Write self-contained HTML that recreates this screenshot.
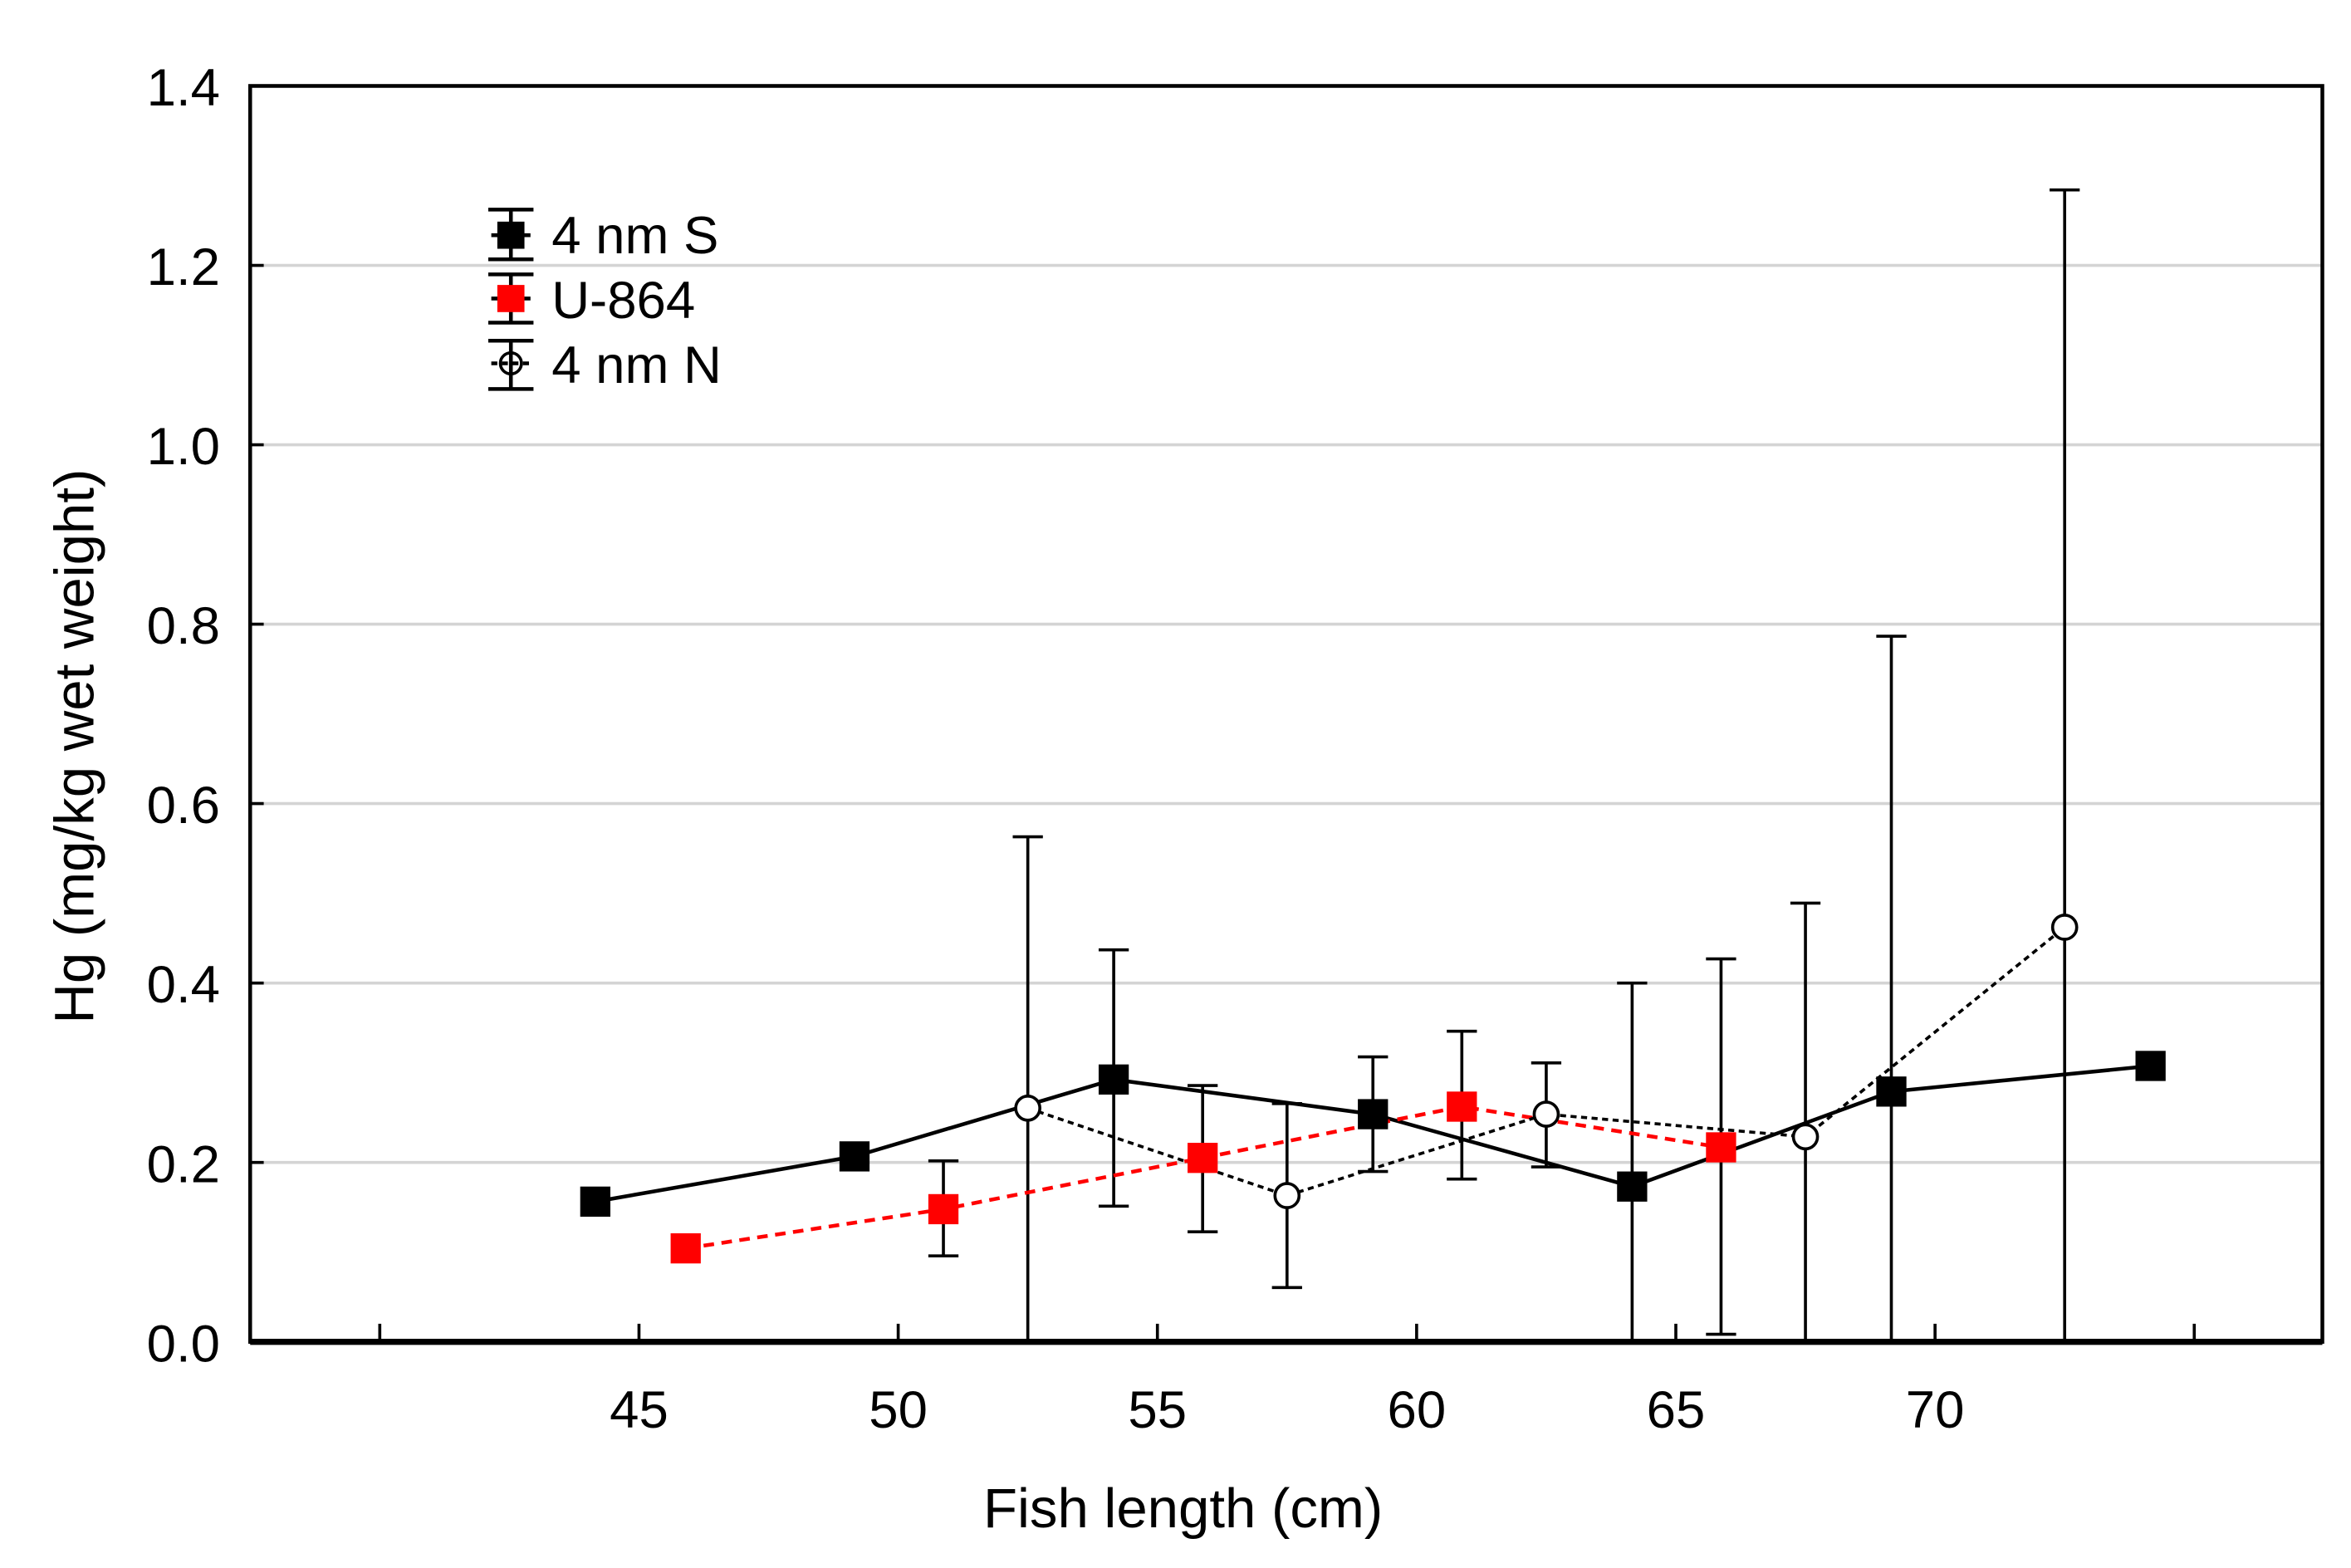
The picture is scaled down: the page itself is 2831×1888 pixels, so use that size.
<!DOCTYPE html>
<html><head><meta charset="utf-8"><style>html,body{margin:0;padding:0;background:#fff}svg{display:block}</style></head>
<body>
<svg width="2831" height="1888" viewBox="0 0 1560 1040" preserveAspectRatio="none" xmlns="http://www.w3.org/2000/svg" font-family="Liberation Sans, sans-serif">
<rect width="1560" height="1040" fill="#fff"/>
<g stroke="#d4d4d4" stroke-width="2">
<line x1="167" x2="1540" y1="771" y2="771"/><line x1="167" x2="1540" y1="652" y2="652"/><line x1="167" x2="1540" y1="533" y2="533"/><line x1="167" x2="1540" y1="414" y2="414"/><line x1="167" x2="1540" y1="295" y2="295"/><line x1="167" x2="1540" y1="176" y2="176"/>
</g>
<rect x="166" y="57" width="1375" height="833" fill="none" stroke="#000" stroke-width="2.5"/>
<line x1="166" x2="1541" y1="890" y2="890" stroke="#000" stroke-width="4"/>
<g stroke="#000" stroke-width="2">
<line x1="252" x2="252" y1="890" y2="878"/><line x1="424" x2="424" y1="890" y2="878"/><line x1="596" x2="596" y1="890" y2="878"/><line x1="768" x2="768" y1="890" y2="878"/><line x1="940" x2="940" y1="890" y2="878"/><line x1="1112" x2="1112" y1="890" y2="878"/><line x1="1284" x2="1284" y1="890" y2="878"/><line x1="1456" x2="1456" y1="890" y2="878"/>
<line x1="166" x2="175" y1="771" y2="771"/><line x1="166" x2="175" y1="652" y2="652"/><line x1="166" x2="175" y1="533" y2="533"/><line x1="166" x2="175" y1="414" y2="414"/><line x1="166" x2="175" y1="295" y2="295"/><line x1="166" x2="175" y1="176" y2="176"/>
</g>
<g font-size="35" text-anchor="end" fill="#000">
<text x="146" y="903">0.0</text><text x="146" y="784">0.2</text><text x="146" y="665">0.4</text><text x="146" y="546">0.6</text><text x="146" y="427">0.8</text><text x="146" y="308">1.0</text><text x="146" y="189">1.2</text><text x="146" y="70">1.4</text>
</g>
<g font-size="35" text-anchor="middle" fill="#000">
<text x="424" y="947">45</text><text x="596" y="947">50</text><text x="768" y="947">55</text><text x="940" y="947">60</text><text x="1112" y="947">65</text><text x="1284" y="947">70</text>
<text x="785" y="1013" font-size="37">Fish length (cm)</text>
<text transform="translate(62,495) rotate(-90)" font-size="37">Hg (mg/kg wet weight)</text>
</g>
<g stroke="#000" stroke-width="2" fill="none">
<path d="M739 630V800M729 630H749M729 800H749"/>
<path d="M911 701V777M901 701H921M901 777H921"/>
<path d="M1083 652V890M1073 652H1093"/>
<path d="M1255 422V890M1245 422H1265"/>
<path d="M626 770V833M616 770H636M616 833H636"/>
<path d="M798 720V817M788 720H808M788 817H808"/>
<path d="M970 684V782M960 684H980M960 782H980"/>
<path d="M1142 636V885M1132 636H1152M1132 885H1152"/>
<path d="M682 555V890M672 555H692"/>
<path d="M854 732V854M844 732H864M844 854H864"/>
<path d="M1026 705V774M1016 705H1036M1016 774H1036"/>
<path d="M1198 599V890M1188 599H1208"/>
<path d="M1370 126V890M1360 126H1380"/>
</g>
<polyline points="395,797 567,767 739,716 911,739 1083,787 1255,724 1427,707" fill="none" stroke="#000" stroke-width="2.5"/>
<polyline points="455,828 626,802 798,768 970,734 1142,761" fill="none" stroke="#f00" stroke-width="2.5" stroke-dasharray="7,5"/>
<polyline points="682,735 854,793 1026,739 1198,754 1370,615" fill="none" stroke="#000" stroke-width="2" stroke-dasharray="4,3"/>
<g fill="#000">
<rect x="385" y="787" width="20" height="20"/><rect x="557" y="757" width="20" height="20"/><rect x="729" y="706" width="20" height="20"/><rect x="901" y="729" width="20" height="20"/><rect x="1073" y="777" width="20" height="20"/><rect x="1245" y="714" width="20" height="20"/><rect x="1417" y="697" width="20" height="20"/>
</g>
<g fill="#f00">
<rect x="445" y="818" width="20" height="20"/><rect x="616" y="792" width="20" height="20"/><rect x="788" y="758" width="20" height="20"/><rect x="960" y="724" width="20" height="20"/><rect x="1132" y="751" width="20" height="20"/>
</g>
<g fill="#fff" stroke="#000" stroke-width="2">
<circle cx="682" cy="735" r="8"/><circle cx="854" cy="793" r="8"/><circle cx="1026" cy="739" r="8"/><circle cx="1198" cy="754" r="8"/><circle cx="1370" cy="615" r="8"/>
</g>
<g stroke="#000" stroke-width="2.5" fill="none">
<path d="M339 139V172M324 139H354M324 172H354M326 156H352"/>
<path d="M339 182V214M324 182H354M324 214H354M326 198H352"/>
<path d="M339 226V258M324 226H354M324 258H354"/>
<path d="M326 241H352" stroke-dasharray="4,3"/>
</g>
<rect x="330" y="147" width="18" height="18" fill="#000"/>
<rect x="330" y="189" width="18" height="18" fill="#f00"/>
<circle cx="339" cy="241" r="7" fill="none" stroke="#000" stroke-width="2"/>
<g font-size="35" fill="#000">
<text x="366" y="168">4 nm S</text><text x="366" y="211">U-864</text><text x="366" y="254">4 nm N</text>
</g>
</svg>
</body></html>
